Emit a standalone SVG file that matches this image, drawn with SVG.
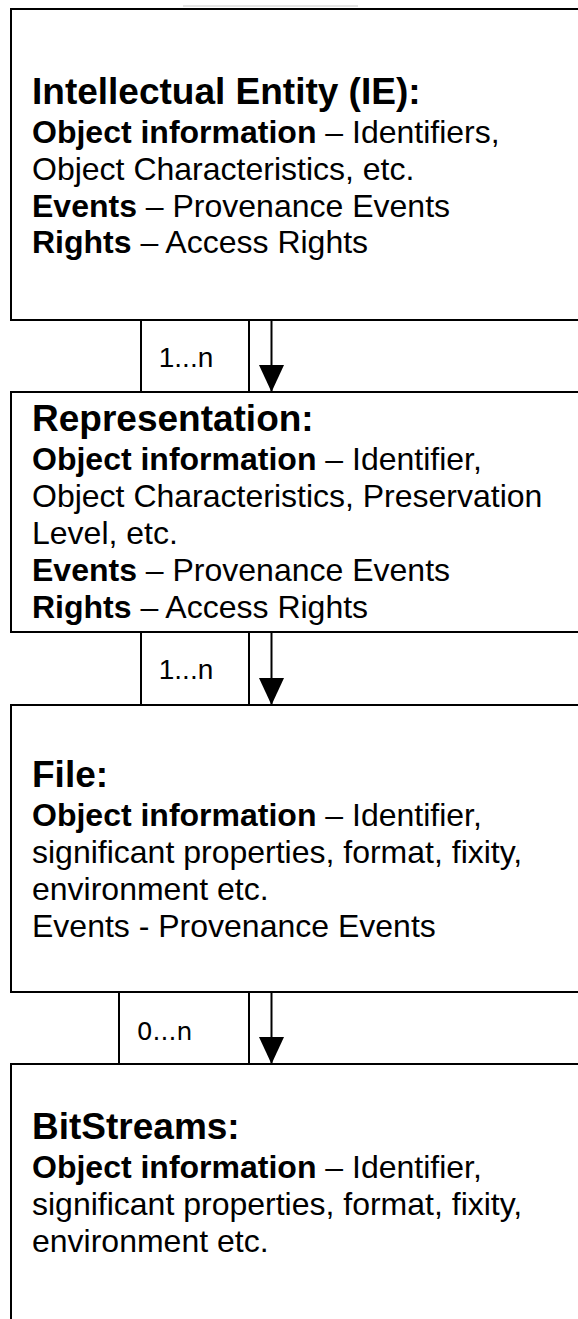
<svg xmlns="http://www.w3.org/2000/svg" width="578" height="1319" viewBox="0 0 578 1319">
  <style>
    .box { fill: #ffffff; stroke: #000000; stroke-width: 2; }
    .tag { fill: #ffffff; stroke: #000000; stroke-width: 2; }
    .edge { stroke: #000000; stroke-width: 2; fill: none; }
    .title { font-family: "Liberation Sans", Arial, sans-serif; font-weight: bold; font-size: 37px; fill: #000000; }
    .body { font-family: "Liberation Sans", Arial, sans-serif; font-size: 32px; fill: #000000; }
    .body .b { font-weight: bold; }
    .mult { font-family: "Liberation Sans", Arial, sans-serif; font-size: 28px; fill: #000000; }
    .mult2 { font-family: "DejaVu Sans", sans-serif; font-size: 25px; fill: #000000; }
  </style>
  <defs>
    <marker id="arrow" markerUnits="userSpaceOnUse" viewBox="0 -12.5 27 25" refX="27" refY="0" markerWidth="27" markerHeight="25" orient="auto">
      <path d="M0,-12.5 L27,0 L0,12.5 Z" fill="#000000"/>
    </marker>
  </defs>

  <rect width="578" height="1319" fill="#ffffff"/>
  <!-- faint rule above the first box -->
  <line x1="183" y1="6" x2="358" y2="6" stroke="#c8c8c8" stroke-width="1"/>

  <g id="node-ie">
    <rect class="box" x="11" y="9" width="580" height="311"/>
    <text class="title" x="32" y="104">Intellectual Entity (IE):</text>
    <text class="body" x="32" y="143"><tspan class="b">Object information</tspan> – Identifiers,</text>
    <text class="body" x="32" y="180">Object Characteristics, etc.</text>
    <text class="body" x="32" y="217"><tspan class="b">Events</tspan> – Provenance Events</text>
    <text class="body" x="32" y="253"><tspan class="b">Rights</tspan> – Access Rights</text>
  </g>

  <g id="node-representation">
    <rect class="box" x="11" y="392" width="580" height="240"/>
    <text class="title" x="32" y="431">Representation:</text>
    <text class="body" x="32" y="470"><tspan class="b">Object information</tspan> – Identifier,</text>
    <text class="body" x="32" y="507">Object Characteristics, Preservation</text>
    <text class="body" x="32" y="544">Level, etc.</text>
    <text class="body" x="32" y="581"><tspan class="b">Events</tspan> – Provenance Events</text>
    <text class="body" x="32" y="618"><tspan class="b">Rights</tspan> – Access Rights</text>
  </g>

  <g id="node-file">
    <rect class="box" x="11" y="705" width="580" height="287"/>
    <text class="title" x="32" y="787">File:</text>
    <text class="body" x="32" y="826"><tspan class="b">Object information</tspan> – Identifier,</text>
    <text class="body" x="32" y="863">significant properties, format, fixity,</text>
    <text class="body" x="32" y="900">environment etc.</text>
    <text class="body" x="32" y="937">Events - Provenance Events</text>
  </g>

  <g id="node-bitstreams">
    <rect class="box" x="11" y="1064" width="580" height="270"/>
    <text class="title" x="32" y="1139">BitStreams:</text>
    <text class="body" x="32" y="1178"><tspan class="b">Object information</tspan> – Identifier,</text>
    <text class="body" x="32" y="1215">significant properties, format, fixity,</text>
    <text class="body" x="32" y="1252">environment etc.</text>
  </g>

  <g id="connectors">
    <g id="ie-to-representation">
      <rect class="tag" x="141" y="320" width="108" height="72"/>
      <text class="mult" x="186" y="367" text-anchor="middle">1...n</text>
      <line class="edge" x1="271.5" y1="320" x2="271.5" y2="392" marker-end="url(#arrow)"/>
    </g>
    <g id="representation-to-file">
      <rect class="tag" x="141" y="632" width="108" height="73"/>
      <text class="mult" x="186" y="679" text-anchor="middle">1...n</text>
      <line class="edge" x1="271.5" y1="632" x2="271.5" y2="705" marker-end="url(#arrow)"/>
    </g>
    <g id="file-to-bitstreams">
      <rect class="tag" x="119" y="992" width="130" height="72"/>
      <text class="mult2" x="164.5" y="1040" text-anchor="middle">0...n</text>
      <line class="edge" x1="271.5" y1="992" x2="271.5" y2="1064" marker-end="url(#arrow)"/>
    </g>
  </g>
</svg>
